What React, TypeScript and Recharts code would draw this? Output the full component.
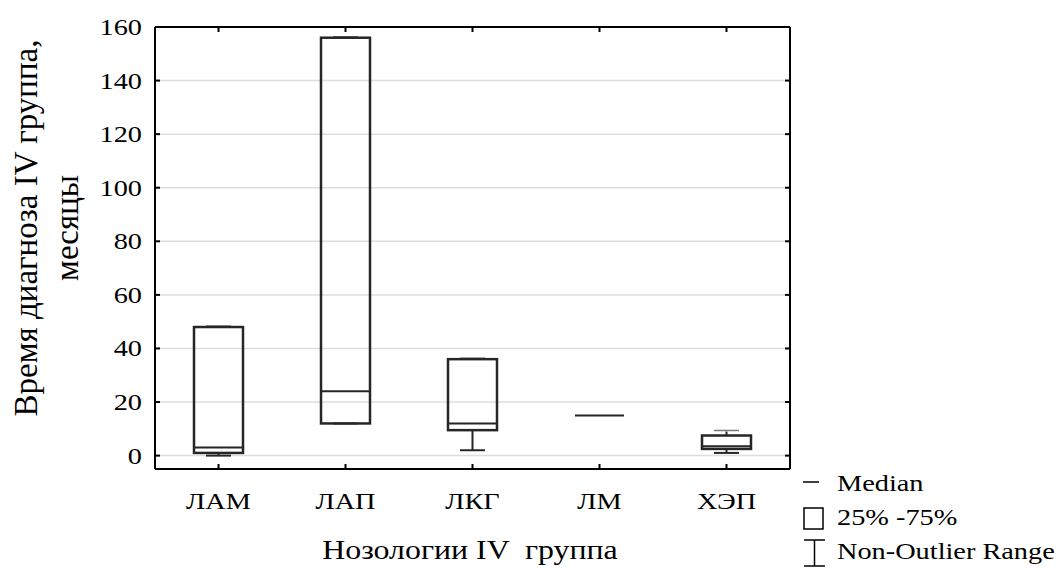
import React from "react";
import {
  Bar,
  CartesianGrid,
  ComposedChart,
  XAxis,
  YAxis
} from "recharts";

// box plot summary per group
const categories = ["ЛАМ", "ЛАП", "ЛКГ", "ЛМ", "ХЭП"];
const minValues = [0, 12, 2, 15, 1];
const q1Values = [1, 12, 9.5, 15, 2.5];
const medianValues = [3, 24, 12, 15, 3.5];
const q3Values = [48, 156, 36, 15, 7.5];
const maxValues = [48, 156, 36, 15, 9];
const yTicks = [0, 20, 40, 60, 80, 100, 120, 140, 160];

const FONT = "Liberation Serif";
// text in this chart is set a little wide
const WIDE = 1.18;

const data = categories.map((name, i) => ({
  name,
  min: minValues[i],
  q1: q1Values[i],
  median: medianValues[i],
  q3: q3Values[i],
  max: maxValues[i]
}));

const WideText = ({ x, y, size, anchor = "start", children }: any) => (
  <text
    transform={`translate(${x}, ${y}) scale(${WIDE}, 1)`}
    textAnchor={anchor}
    fontSize={size}
    fontFamily={FONT}
    fill="#000"
    style={{ whiteSpace: "pre" }}
  >
    {children}
  </text>
);

// draws box, median and whiskers inside the [min, max] bar rectangle
const BoxShape = (props: any) => {
  const { x, y, width, height, payload } = props;
  const top = Math.min(y, y + height);
  const bottom = Math.max(y, y + height);
  const span = payload.max - payload.min;
  const py = (v: number) =>
    span === 0 ? top : bottom - ((v - payload.min) / span) * (bottom - top);
  const cx = x + width / 2;
  const capW = 25;
  const boxTop = py(payload.q3);
  const boxBottom = py(payload.q1);
  return (
    <g>
      {span > 0 && (
        <g>
          <line x1={cx} x2={cx} y1={py(payload.max)} y2={boxTop} stroke="#262626" strokeWidth={2} />
          <line x1={cx} x2={cx} y1={boxBottom} y2={py(payload.min)} stroke="#262626" strokeWidth={2} />
          <line x1={cx - capW / 2} x2={cx + capW / 2} y1={py(payload.max) - 1} y2={py(payload.max) - 1} stroke="#777" strokeWidth={1.5} />
          <line x1={cx - capW / 2} x2={cx + capW / 2} y1={py(payload.min)} y2={py(payload.min)} stroke="#262626" strokeWidth={2} />
          <rect x={x} y={boxTop} width={width} height={boxBottom - boxTop} fill="none" stroke="#262626" strokeWidth={2.5} />
        </g>
      )}
      <line x1={x} x2={x + width} y1={py(payload.median)} y2={py(payload.median)} stroke="#262626" strokeWidth={2} />
    </g>
  );
};

const LeftTick = (props: any) => {
  const { x, y, payload } = props;
  return (
    <g>
      <line x1={x} x2={x + 5} y1={y} y2={y} stroke="#000" strokeWidth={2} />
      <WideText x={x - 13} y={y + 8} size={24} anchor="end">
        {payload.value}
      </WideText>
    </g>
  );
};

const RightTick = (props: any) => {
  const { x, y } = props;
  return <line x1={x - 5} x2={x} y1={y} y2={y} stroke="#000" strokeWidth={2} />;
};

const BottomTick = (props: any) => {
  const { x, y, payload } = props;
  return (
    <g>
      <line x1={x} x2={x} y1={y - 5} y2={y} stroke="#000" strokeWidth={2} />
      <WideText x={x} y={y + 40} size={24} anchor="middle">
        {payload.value}
      </WideText>
    </g>
  );
};

const TopTick = (props: any) => {
  const { x, y } = props;
  return <line x1={x} x2={x} y1={y} y2={y + 5} stroke="#000" strokeWidth={2} />;
};

const App = () => {
  return (
    <div style={{ position: "absolute", left: 0, top: 0, width: 1064, height: 568, background: "#fff" }}>
      <ComposedChart
        width={1064}
        height={568}
        data={data}
        margin={{ top: 26, right: 273, bottom: 59, left: 95 }}
      >
        <CartesianGrid vertical={false} stroke="#dedede" strokeWidth={1.5} />
        <XAxis
          dataKey="name"
          height={40}
          tickSize={0}
          tickMargin={0}
          tick={<BottomTick />}
          axisLine={{ stroke: "#000", strokeWidth: 2 }}
        />
        <XAxis
          xAxisId="top"
          orientation="top"
          dataKey="name"
          height={1}
          tickSize={0}
          tickMargin={0}
          tick={<TopTick />}
          axisLine={{ stroke: "#000", strokeWidth: 2 }}
        />
        <YAxis
          domain={[-5, 160]}
          ticks={yTicks}
          width={60}
          tickSize={0}
          tickMargin={0}
          tick={<LeftTick />}
          axisLine={{ stroke: "#000", strokeWidth: 2 }}
          allowDataOverflow
        />
        <YAxis
          yAxisId="right"
          orientation="right"
          domain={[-5, 160]}
          ticks={yTicks}
          width={1}
          tickSize={0}
          tickMargin={0}
          tick={<RightTick />}
          axisLine={{ stroke: "#000", strokeWidth: 2 }}
          allowDataOverflow
        />
        <Bar
          dataKey={(d: any) => [d.min, d.max]}
          barSize={49}
          shape={<BoxShape />}
          isAnimationActive={false}
        />
      </ComposedChart>

      <svg
        width={1064}
        height={568}
        style={{ position: "absolute", left: 0, top: 0, pointerEvents: "none" }}
      >
        <text
          transform="translate(37, 228) rotate(-90)"
          textAnchor="middle"
          fontSize={33}
          fontFamily={FONT}
        >
          Время диагноза IV группа,
        </text>
        <text
          transform="translate(78, 228) rotate(-90)"
          textAnchor="middle"
          fontSize={33}
          fontFamily={FONT}
        >
          месяцы
        </text>
        <WideText x={470} y={559} size={27} anchor="middle">
          {"Нозологии IV  группа"}
        </WideText>

        <WideText x={837} y={491} size={24}>Median</WideText>
        <WideText x={837} y={525} size={24}>25% -75%</WideText>
        <WideText x={837} y={559} size={24}>Non-Outlier Range</WideText>

        <line x1={803} x2={819} y1={482} y2={482} stroke="#000" strokeWidth={1.5} />
        <rect x={804} y={508} width={19} height={21} fill="none" stroke="#000" strokeWidth={1.5} />
        <line x1={814.5} x2={814.5} y1={540} y2={566} stroke="#000" strokeWidth={1.5} />
        <line x1={804} x2={825} y1={540} y2={540} stroke="#000" strokeWidth={1.5} />
        <line x1={804} x2={825} y1={566} y2={566} stroke="#000" strokeWidth={1.5} />
      </svg>
    </div>
  );
};

export default App;
